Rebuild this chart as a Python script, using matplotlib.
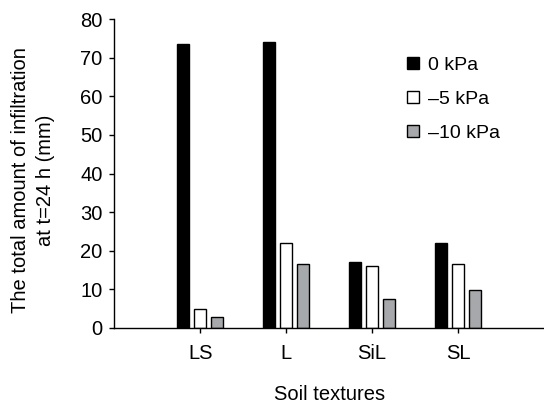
import numpy as np
import matplotlib
matplotlib.use('Agg')
import matplotlib.pyplot as plt
from matplotlib.patches import Patch

plt.rcParams['font.family'] = ['Liberation Sans', 'DejaVu Sans']

textures = ['LS', 'L', 'SiL', 'SL']
series = ['0 kPa', '\u20135 kPa', '\u201310 kPa']
kpa_0 = [73.5, 74.0, 17.1, 22.0]
kpa_5 = [4.8, 22.0, 16.1, 16.6]
kpa_10 = [2.9, 16.4, 7.5, 9.8]

colors = ['black', 'white', '#a7a8ab']
W, H = 544, 405

fig = plt.figure(figsize=(W / 100, H / 100), dpi=100)
ax = fig.add_axes([114.3 / W, 1 - 327.7 / H, 1 - 114.3 / W, 308.4 / H])

x = np.arange(1, len(textures) + 1)
width = 0.14
for i, (vals, col) in enumerate(zip([kpa_0, kpa_5, kpa_10], colors)):
    ax.bar(x + (i - 1) * 0.2, vals, width, color=col, edgecolor='black',
           linewidth=1.0, zorder=2)

ax.set_xlim(0, 5)
ax.set_ylim(0, 80)
ax.set_yticks(range(0, 81, 10))
ax.set_xticks(x)
ax.set_xticklabels(textures)

for s in ['top', 'right']:
    ax.spines[s].set_visible(False)
for s in ['left', 'bottom']:
    ax.spines[s].set_linewidth(1.0)

fs = 14.5
ax.tick_params(axis='both', labelsize=fs, length=3.5, width=1.0)
ax.tick_params(axis='x', pad=8)
ax.tick_params(axis='y', pad=5)

ax.set_ylabel('The total amount of infiltration\nat t=24 h (mm)', fontsize=fs,
              linespacing=1.35, va='center')
ax.yaxis.set_label_coords((33 - 114.3) / 429.7, 0.478)
ax.set_xlabel('Soil textures', fontsize=fs, va='center')
ax.xaxis.set_label_coords(0.5, -(395 - 327.7) / 308.4)

handles = [Patch(facecolor=c, edgecolor='black', linewidth=1.0) for c in colors]
ax.legend(handles, series, loc='upper left', frameon=False, fontsize=14,
          bbox_to_anchor=(406.7 / W, 1 - 57 / H), bbox_transform=fig.transFigure,
          borderpad=0, borderaxespad=0, handlelength=0.62, handleheight=0.6,
          handletextpad=0.5, labelspacing=0.86)

fig.savefig('out.png', dpi=100)
